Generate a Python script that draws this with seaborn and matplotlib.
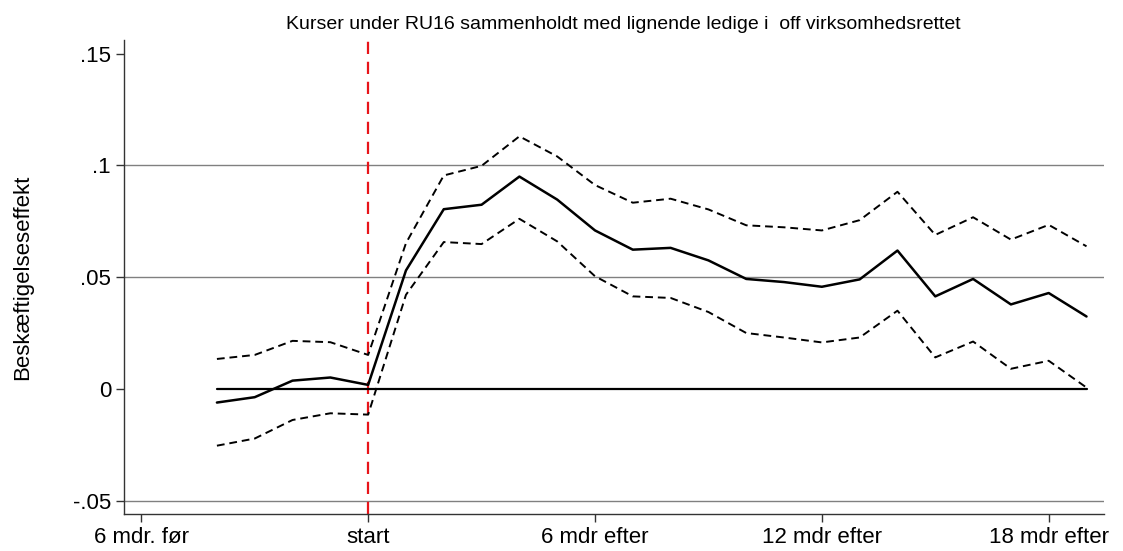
import matplotlib
matplotlib.use("Agg")
import matplotlib.pyplot as plt
import seaborn as sns
import pandas as pd

# maaneder relativt til kursusstart
maaned = list(range(-4, 20))

effekt = [-0.0061, -0.0037, 0.0037, 0.0051, 0.0018, 0.0530, 0.0804, 0.0824,
          0.0950, 0.0847, 0.0709, 0.0623, 0.0631, 0.0575, 0.0492, 0.0478,
          0.0457, 0.0490, 0.0619, 0.0414, 0.0492, 0.0378, 0.0429, 0.0324]

oevre = [0.0134, 0.0152, 0.0215, 0.0209, 0.0152, 0.0652, 0.0955, 0.0998,
         0.1130, 0.1040, 0.0912, 0.0833, 0.0851, 0.0803, 0.0732, 0.0723,
         0.0709, 0.0755, 0.0882, 0.0689, 0.0768, 0.0668, 0.0734, 0.0638]

nedre = [-0.0254, -0.0222, -0.0139, -0.0109, -0.0115, 0.0421, 0.0657, 0.0648,
         0.0761, 0.0660, 0.0504, 0.0414, 0.0407, 0.0344, 0.0250, 0.0230,
         0.0208, 0.0230, 0.0350, 0.0141, 0.0212, 0.0090, 0.0126, 0.0006]

nul = [0.0] * len(maaned)

x_ticks = [-6, 0, 6, 12, 18]
x_labels = ["6 mdr. før", "start", "6 mdr efter", "12 mdr efter", "18 mdr efter"]
y_ticks = [-0.05, 0, 0.05, 0.1, 0.15]
y_labels = ["-.05", "0", ".05", ".1", ".15"]

titel = "Kurser under RU16 sammenholdt med lignende ledige i  off virksomhedsrettet"
ylabel = "Beskæftigelseseffekt"

df = pd.DataFrame({"maaned": maaned, "effekt": effekt, "oevre": oevre,
                   "nedre": nedre, "nul": nul})

sns.set_style("white")
plt.rcParams["font.family"] = ["Liberation Sans", "DejaVu Sans"]
plt.rcParams["text.color"] = "black"
plt.rcParams["axes.labelcolor"] = "black"
plt.rcParams["xtick.color"] = "black"
plt.rcParams["ytick.color"] = "black"

fig = plt.figure(figsize=(11.23, 5.51), dpi=100)
ax = fig.add_axes([0.110, 0.067, 0.873, 0.860])

# gitterlinjer (kun de indre)
for yv in [-0.05, 0.05, 0.1]:
    ax.axhline(yv, color="#808080", lw=1.0, zorder=0)

ax.axvline(0, color="#e8141a", lw=1.6, linestyle=(0, (5.5, 3.5)), zorder=1)

sns.lineplot(data=df, x="maaned", y="nul", color="black", lw=1.6, ax=ax)
sns.lineplot(data=df, x="maaned", y="oevre", color="black", lw=1.4,
             linestyle=(0, (4, 2.5)), ax=ax)
sns.lineplot(data=df, x="maaned", y="nedre", color="black", lw=1.4,
             linestyle=(0, (4, 2.5)), ax=ax)
sns.lineplot(data=df, x="maaned", y="effekt", color="black", lw=1.8, ax=ax)

ax.set_xlim(-6.47, 19.46)
ax.set_ylim(-0.056, 0.156)
ax.set_xticks(x_ticks)
ax.set_xticklabels(x_labels, fontsize=16)
ax.set_yticks(y_ticks)
ax.set_yticklabels(y_labels, fontsize=16)
ax.tick_params(axis="both", direction="out", length=6, width=1, color="#333333",
               bottom=True, left=True, pad=3)

ax.set_xlabel("")
ax.set_ylabel(ylabel, fontsize=16)
ax.yaxis.set_label_coords(-0.092, 0.5)
ax.set_title(titel, fontsize=14, pad=8, x=0.51)

for side in ["top", "right"]:
    ax.spines[side].set_visible(False)
for side in ["left", "bottom"]:
    ax.spines[side].set_color("#333333")
    ax.spines[side].set_linewidth(1.0)

fig.savefig("out.png", dpi=100)
